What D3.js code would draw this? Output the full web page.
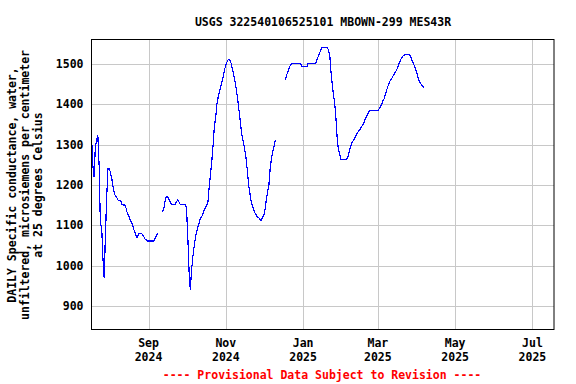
<!DOCTYPE html>
<html>
<head>
<meta charset="utf-8">
<script src="https://cdn.jsdelivr.net/npm/d3@7"></script>
<style>
  body { margin: 0; background: #fff; }
  text { font-family: "DejaVu Sans Mono", monospace; font-weight: bold; font-size: 11.5px; }
</style>
</head>
<body>
<svg id="chart" width="576" height="384"></svg>
<script>
// data (daily values, three runs with gaps)
const titleText = "USGS 322540106525101 MBOWN-299 MES43R";
const yLabelLines = ["DAILY Specific conductance, water,",
                     "unfiltered, microsiemens per centimeter",
                     "at 25 degrees Celsius"];
const footerText = "---- Provisional Data Subject to Revision ----";

const segmentStarts = ["2024-07-18", "2024-09-12", "2024-12-18"];
const seg1Values = [1323, 1251, 1220, 1290, 1311, 1323, 1250, 1102, 1098, 1020,
                    970, 1076, 1170, 1241, 1241, 1230, 1216, 1195, 1179, 1172,
                    1168, 1162, 1162, 1162, 1152, 1150, 1150, 1146, 1133, 1126,
                    1118, 1110, 1105, 1094, 1084, 1076, 1069, 1078, 1080, 1080,
                    1078, 1074, 1067, 1064, 1061, 1061, 1061, 1061, 1061, 1061,
                    1067, 1072, 1080];
const seg2Values = [1133, 1141, 1158, 1171, 1171, 1165, 1158, 1152, 1152, 1152,
                    1152, 1158, 1163, 1158, 1152, 1152, 1152, 1152, 1152, 1141,
                    1072, 985, 940, 990, 1022, 1047, 1070, 1084, 1096, 1107,
                    1117, 1121, 1130, 1138, 1145, 1150, 1160, 1200, 1229, 1262,
                    1300, 1345, 1368, 1400, 1418, 1431, 1443, 1455, 1470, 1485,
                    1497, 1505, 1511, 1511, 1503, 1490, 1475, 1460, 1443, 1420,
                    1395, 1369, 1340, 1318, 1303, 1286, 1265, 1235, 1200, 1179,
                    1160, 1148, 1139, 1131, 1125, 1121, 1119, 1113, 1113, 1119,
                    1125, 1140, 1165, 1183, 1200, 1240, 1265, 1282, 1295, 1311];
const seg3Values = [1461, 1472, 1480, 1490, 1497, 1501, 1501, 1501, 1501, 1501,
                    1501, 1501, 1501, 1493, 1493, 1493, 1493, 1493, 1501, 1501,
                    1501, 1501, 1501, 1501, 1501, 1511, 1518, 1527, 1534, 1541,
                    1541, 1541, 1541, 1541, 1534, 1522, 1480, 1450, 1422, 1400,
                    1360, 1310, 1286, 1274, 1263, 1263, 1263, 1263, 1263, 1266,
                    1278, 1290, 1300, 1307, 1311, 1318, 1324, 1329, 1334, 1338,
                    1344, 1348, 1354, 1364, 1369, 1375, 1382, 1384, 1384, 1384,
                    1384, 1384, 1384, 1384, 1388, 1394, 1399, 1408, 1414, 1425,
                    1435, 1445, 1453, 1460, 1464, 1470, 1475, 1480, 1486, 1495,
                    1503, 1510, 1516, 1520, 1522, 1522, 1522, 1522, 1522, 1516,
                    1508, 1502, 1492, 1485, 1475, 1462, 1455, 1450, 1446, 1441];

const xTicks = ["2024-09-01", "2024-11-01", "2025-01-01", "2025-03-01", "2025-05-01", "2025-07-01"];
const yTicks = [900, 1000, 1100, 1200, 1300, 1400, 1500];

const parseDate = d3.timeParse("%Y-%m-%d");

const svg = d3.select("#chart");
const plotLeft = 91.5, plotRight = 554, plotTop = 39.5, plotBottom = 329.5;

var x = d3.scaleTime()
    .domain([parseDate("2024-07-18"), parseDate("2025-07-18")])
    .range([plotLeft, plotRight]);
var y = d3.scaleLinear()
    .domain([842, 1560])
    .range([plotBottom, plotTop]);

// grid
svg.append("g")
    .selectAll("line")
    .data(xTicks.map(parseDate)).enter()
    .append("line")
    .attr("x1", d => Math.round(x(d)) + 0.5).attr("x2", d => Math.round(x(d)) + 0.5)
    .attr("y1", plotTop).attr("y2", plotBottom)
    .attr("stroke", "#c8c8c8");
svg.append("g")
    .selectAll("line")
    .data(yTicks).enter()
    .append("line")
    .attr("x1", plotLeft).attr("x2", plotRight)
    .attr("y1", d => Math.round(y(d)) + 0.5).attr("y2", d => Math.round(y(d)) + 0.5)
    .attr("stroke", "#c8c8c8");

// series
const segments = [seg1Values, seg2Values, seg3Values].map(function (vals, k) {
    const start = parseDate(segmentStarts[k]);
    return vals.map((v, i) => ({ date: d3.timeDay.offset(start, i), value: v }));
});

var line = d3.line()
    .x(d => x(d.date))
    .y(d => y(d.value));

svg.append("g")
    .selectAll("path")
    .data(segments).enter()
    .append("path")
    .attr("d", line)
    .attr("fill", "none")
    .attr("stroke", "#0000ff")
    .attr("stroke-width", 1.2)
    .attr("shape-rendering", "crispEdges");

// frame
svg.append("rect")
    .attr("x", plotLeft).attr("y", plotTop)
    .attr("width", plotRight - plotLeft).attr("height", plotBottom - plotTop)
    .attr("fill", "none")
    .attr("stroke", "#000");

// y tick labels
svg.append("g")
    .selectAll("text")
    .data(yTicks).enter()
    .append("text")
    .attr("x", 83.5)
    .attr("y", d => y(d))
    .attr("dy", "0.36em")
    .attr("text-anchor", "end")
    .text(d => d);

// x tick labels, month over year
var xl = svg.append("g")
    .selectAll("text")
    .data(xTicks.map(parseDate)).enter()
    .append("text")
    .attr("text-anchor", "middle");
xl.append("tspan").attr("x", d => x(d)).attr("y", 347).text(d3.timeFormat("%b"));
xl.append("tspan").attr("x", d => x(d)).attr("y", 361).text(d3.timeFormat("%Y"));

// title
svg.append("text")
    .attr("x", 323).attr("y", 25.5)
    .attr("text-anchor", "middle")
    .text(titleText);

// y axis label
svg.append("text")
    .attr("transform", "translate(0,185) rotate(-90)")
    .attr("text-anchor", "middle")
    .selectAll("tspan")
    .data(yLabelLines).enter()
    .append("tspan")
    .attr("x", 0)
    .attr("y", (d, i) => 16 + i * 13)
    .text(d => d);

// footer
svg.append("text")
    .attr("x", 322).attr("y", 379)
    .attr("text-anchor", "middle")
    .attr("fill", "#ff0000")
    .text(footerText);
</script>
</body>
</html>
